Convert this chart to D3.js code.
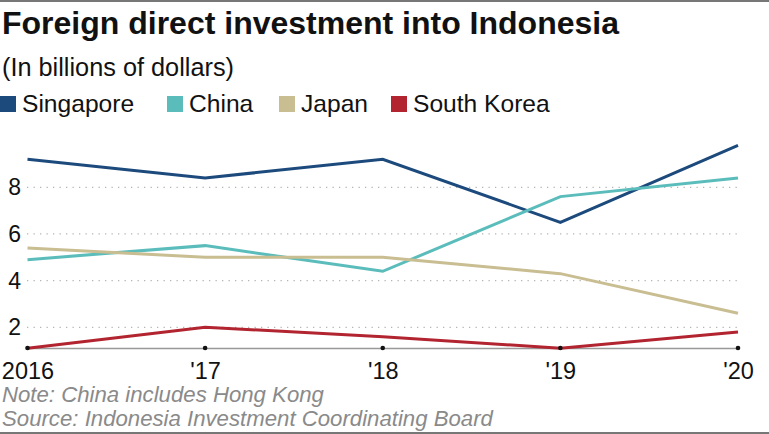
<!DOCTYPE html>
<html>
<head>
<meta charset="utf-8">
<script src="https://cdn.jsdelivr.net/npm/d3@7"></script>
<style>
  html, body { margin: 0; padding: 0; background: #fff; }
  svg { display: block; font-family: "Liberation Sans", Arial, Helvetica, sans-serif; }
</style>
</head>
<body>
<svg id="chart" width="769" height="434"></svg>
<script>
const years = [2016, 2017, 2018, 2019, 2020];
const tickLabels = ["2016", "'17", "'18", "'19", "'20"];
const yTicks = [2, 4, 6, 8];
const seriesNames = ["Singapore", "China", "Japan", "South Korea"];
const singapore = [9.2, 8.4, 9.2, 6.5, 9.8];
const china = [4.9, 5.5, 4.4, 7.6, 8.4];
const japan = [5.4, 5.0, 5.0, 4.3, 2.6];
const southKorea = [1.1, 2.0, 1.6, 1.1, 1.8];
const colors = ["#1c4a7c", "#5bbdbb", "#c9bd92", "#b2242f"];

const seriesValues = [singapore, china, japan, southKorea];
const series = seriesNames.map((name, i) => ({ name, color: colors[i], values: seriesValues[i] }));

const W = 769, H = 434;
const svg = d3.select("#chart");

// borders
svg.append("rect").attr("x", 0).attr("y", 0).attr("width", W).attr("height", 2).attr("fill", "#777");
svg.append("rect").attr("x", 0).attr("y", 432).attr("width", W).attr("height", 2).attr("fill", "#777");

// title and subtitle
svg.append("text").attr("x", 2).attr("y", 34)
  .attr("font-size", 32).attr("font-weight", "bold").attr("fill", "#111")
  .text("Foreign direct investment into Indonesia");
svg.append("text").attr("x", 2).attr("y", 76)
  .attr("font-size", 25.3).attr("fill", "#111")
  .text("(In billions of dollars)");

// legend
const legendX = [0, 167, 279, 391];
const legend = svg.append("g");
series.forEach((s, i) => {
  const g = legend.append("g").attr("transform", `translate(${legendX[i]},0)`);
  g.append("rect").attr("x", 0).attr("y", 96).attr("width", 16).attr("height", 16).attr("fill", s.color);
  g.append("text").attr("x", 22).attr("y", 112).attr("font-size", 24.6).attr("fill", "#111").text(s.name);
});

// scales
const allVals = seriesValues.flat();
const x = d3.scalePoint().domain(years).range([27.5, 738]);
const y = d3.scaleLinear().domain(d3.extent(allVals)).range([348.3, 145.3]);

// gridlines
const grid = svg.append("g");
yTicks.forEach(t => {
  grid.append("line")
    .attr("x1", 27).attr("x2", 738)
    .attr("y1", y(t)).attr("y2", y(t))
    .attr("stroke", "#b5b5b5").attr("stroke-width", 1.3)
    .attr("stroke-dasharray", "1.3,5.2");
});

// y labels
const yAxis = d3.axisLeft(y).tickValues(yTicks).tickSize(0).tickPadding(0).tickFormat(d3.format("d"));
const yg = svg.append("g").attr("transform", "translate(21,0)").call(yAxis);
yg.select(".domain").remove();
yg.selectAll("text").attr("font-size", 23).attr("fill", "#111").attr("font-family", "Liberation Sans, Arial, sans-serif");

// x axis baseline
const baseY = 348;
const xAxis = d3.axisBottom(x).tickSize(0).tickPadding(18).tickFormat((d, i) => tickLabels[i]);
const xg = svg.append("g").attr("transform", `translate(0,${baseY})`).call(xAxis);
xg.select(".domain").attr("stroke", "#999").attr("stroke-width", 1.3);
xg.selectAll("text").attr("font-size", 23.5).attr("fill", "#111").attr("font-family", "Liberation Sans, Arial, sans-serif").attr("dy", "0.55em");

// lines
const line = d3.line().x((d, i) => x(years[i])).y(d => y(d));
series.forEach(s => {
  svg.append("path").datum(s.values)
    .attr("d", line)
    .attr("fill", "none")
    .attr("stroke", s.color)
    .attr("stroke-width", 3)
    .attr("stroke-linejoin", "miter");
});

// tick dots
svg.append("g").selectAll("circle").data(years).join("circle")
  .attr("cx", d => x(d)).attr("cy", baseY).attr("r", 2.3).attr("fill", "#111");

// notes
svg.append("text").attr("x", 2).attr("y", 402).attr("font-size", 22.2).attr("font-style", "italic").attr("fill", "#8a8a8a")
  .text("Note: China includes Hong Kong");
svg.append("text").attr("x", 2).attr("y", 426).attr("font-size", 22.2).attr("font-style", "italic").attr("fill", "#8a8a8a")
  .text("Source: Indonesia Investment Coordinating Board");
</script>
</body>
</html>
